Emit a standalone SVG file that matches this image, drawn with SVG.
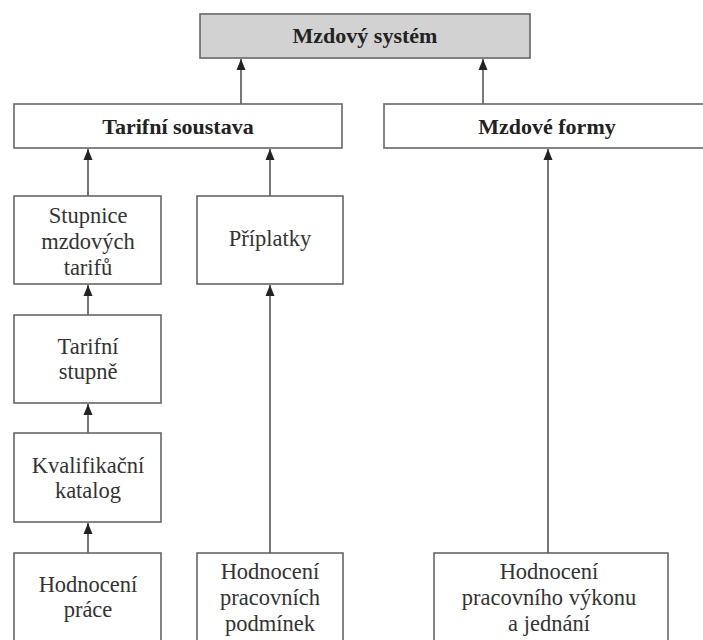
<svg xmlns="http://www.w3.org/2000/svg" width="703" height="640" viewBox="0 0 703 640">
<defs>
<style>
.box{fill:#fff;stroke:#666;stroke-width:1.6}
.root{fill:#d2d2d2;stroke:#666;stroke-width:1.6}
.c{stroke:#555;stroke-width:1.6;fill:none}
.ah{fill:#222}
</style>
</defs>
<rect width="703" height="640" fill="#fff"/>
<g id="connectors">
<line class="c" x1="241" y1="104" x2="241" y2="59"/>
<line class="c" x1="483" y1="104" x2="483" y2="59"/>
<line class="c" x1="88" y1="196" x2="88" y2="149"/>
<line class="c" x1="270" y1="196" x2="270" y2="149"/>
<line class="c" x1="548" y1="553" x2="548" y2="149"/>
<line class="c" x1="88" y1="315" x2="88" y2="285"/>
<line class="c" x1="88" y1="433" x2="88" y2="404"/>
<line class="c" x1="88" y1="553" x2="88" y2="523"/>
<line class="c" x1="270" y1="553" x2="270" y2="285"/>
<path class="ah" d="M236.5,70 L241,59 L245.5,70 Z"/>
<path class="ah" d="M478.5,70 L483,59 L487.5,70 Z"/>
<path class="ah" d="M83.5,160 L88,149 L92.5,160 Z"/>
<path class="ah" d="M265.5,160 L270,149 L274.5,160 Z"/>
<path class="ah" d="M543.5,160 L548,149 L552.5,160 Z"/>
<path class="ah" d="M83.5,296 L88,285 L92.5,296 Z"/>
<path class="ah" d="M83.5,415 L88,404 L92.5,415 Z"/>
<path class="ah" d="M83.5,534 L88,523 L92.5,534 Z"/>
<path class="ah" d="M265.5,296 L270,285 L274.5,296 Z"/>
</g>
<g id="mzdovy-system">
<rect class="root" x="200" y="14" width="330" height="44"/>
<text x="365" y="43" font-family="Liberation Serif" font-weight="bold" font-size="22" fill="#222" text-anchor="middle">Mzdový systém</text>
</g>
<g id="tarifni-soustava">
<rect class="box" x="14" y="104" width="328" height="44"/>
<text x="178" y="134" font-family="Liberation Serif" font-weight="bold" font-size="22" fill="#222" text-anchor="middle">Tarifní soustava</text>
</g>
<g id="mzdove-formy">
<rect class="box" x="384" y="104" width="330" height="44"/>
<text x="547" y="134" font-family="Liberation Serif" font-weight="bold" font-size="22" fill="#222" text-anchor="middle">Mzdové formy</text>
</g>
<g id="stupnice">
<rect class="box" x="14" y="196" width="147" height="88"/>
<text x="88" y="223" font-family="Liberation Serif" font-size="22.5" fill="#333" text-anchor="middle">Stupnice</text>
<text x="88" y="249" font-family="Liberation Serif" font-size="22.5" fill="#333" text-anchor="middle">mzdových</text>
<text x="88" y="275" font-family="Liberation Serif" font-size="22.5" fill="#333" text-anchor="middle">tarifů</text>
</g>
<g id="priplatky">
<rect class="box" x="197" y="196" width="146" height="88"/>
<text x="270" y="246" font-family="Liberation Serif" font-size="22.5" fill="#333" text-anchor="middle">Příplatky</text>
</g>
<g id="tarifni-stupne">
<rect class="box" x="14" y="315" width="147" height="88"/>
<text x="88" y="354" font-family="Liberation Serif" font-size="22.5" fill="#333" text-anchor="middle">Tarifní</text>
<text x="88" y="379" font-family="Liberation Serif" font-size="22.5" fill="#333" text-anchor="middle">stupně</text>
</g>
<g id="kvalifikacni-katalog">
<rect class="box" x="14" y="433" width="147" height="89"/>
<text x="88" y="473" font-family="Liberation Serif" font-size="22.5" fill="#333" text-anchor="middle">Kvalifikační</text>
<text x="88" y="498" font-family="Liberation Serif" font-size="22.5" fill="#333" text-anchor="middle">katalog</text>
</g>
<g id="hodnoceni-prace">
<rect class="box" x="14" y="553" width="147" height="95"/>
<text x="88" y="592" font-family="Liberation Serif" font-size="22.5" fill="#333" text-anchor="middle">Hodnocení</text>
<text x="88" y="617" font-family="Liberation Serif" font-size="22.5" fill="#333" text-anchor="middle">práce</text>
</g>
<g id="hodnoceni-podminek">
<rect class="box" x="197" y="553" width="146" height="95"/>
<text x="270" y="579" font-family="Liberation Serif" font-size="22.5" fill="#333" text-anchor="middle">Hodnocení</text>
<text x="270" y="605" font-family="Liberation Serif" font-size="22.5" fill="#333" text-anchor="middle">pracovních</text>
<text x="270" y="631" font-family="Liberation Serif" font-size="22.5" fill="#333" text-anchor="middle">podmínek</text>
</g>
<g id="hodnoceni-vykonu">
<rect class="box" x="434" y="553" width="234" height="95"/>
<text x="549" y="579" font-family="Liberation Serif" font-size="22.5" fill="#333" text-anchor="middle">Hodnocení</text>
<text x="549" y="605" font-family="Liberation Serif" font-size="22.5" fill="#333" text-anchor="middle">pracovního výkonu</text>
<text x="549" y="631" font-family="Liberation Serif" font-size="22.5" fill="#333" text-anchor="middle">a jednání</text>
</g>
</svg>
